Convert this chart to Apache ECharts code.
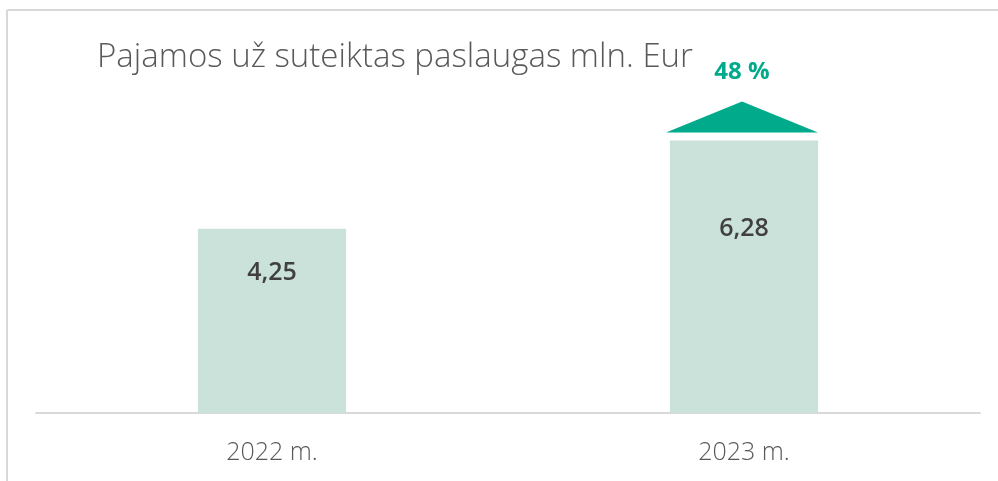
<!DOCTYPE html>
<html>
<head>
<meta charset="utf-8">
<script src="https://cdn.jsdelivr.net/npm/echarts@6/dist/echarts.min.js"></script>
<style>
  html, body { margin: 0; padding: 0; background: #fff; }
  #chart { width: 998px; height: 481px; }
</style>
</head>
<body>
<div id="chart"></div>
<script>
const years = ['2022 m.', '2023 m.']
const revenue = [4.25, 6.28]
const growthLabel = '48 %'
const titleText = 'Pajamos už suteiktas paslaugas mln. Eur'

let myChart = echarts.init(document.getElementById('chart'))
// 绘制图表
myChart.setOption({
  animation: false,
  title: {
    text: titleText,
    left: 92,
    top: 36,
    textStyle: {
      fontFamily: 'Open Sans',
      fontWeight: 300,
      fontSize: 33,
      color: '#595959'
    }
  },
  graphic: [
    { type: 'line', shape: { x1: 7, y1: 10, x2: 998, y2: 10 }, style: { stroke: '#d9d9d9', lineWidth: 2 } },
    { type: 'line', shape: { x1: 7, y1: 10, x2: 7, y2: 481 }, style: { stroke: '#d9d9d9', lineWidth: 2 } }
  ],
  grid: {
    left: 36,
    right: 18,
    top: 66,
    bottom: 68
  },
  xAxis: {
    type: 'category',
    data: years,
    axisLine: { lineStyle: { color: '#d9d9d9', width: 2 } },
    axisTick: { show: false },
    axisLabel: {
      margin: 27,
      fontFamily: 'Open Sans',
      fontWeight: 300,
      fontSize: 25,
      color: '#595959'
    }
  },
  yAxis: {
    type: 'value',
    min: 0,
    max: 8,
    show: false,
    splitLine: { show: false }
  },
  series: [
    {
      name: 'Pajamos',
      type: 'bar',
      data: revenue,
      barWidth: '31.4%',
      itemStyle: { color: '#cbe2da' },
      label: {
        show: true,
        position: 'inside',
        offset: [0, -48],
        formatter: p => p.value.toFixed(2).replace('.', ','),
        fontFamily: 'Open Sans',
        fontWeight: 600,
        fontSize: 25,
        color: '#404040'
      }
    },
    {
      name: 'Augimas',
      type: 'custom',
      data: [[1, revenue[1]]],
      renderItem(params, api) {
        let top = api.coord([api.value(0), api.value(1)])
        let size = api.size([1, 0])
        let half = size[0] * 0.322 / 2
        return {
          type: 'group',
          children: [
            {
              type: 'polygon',
              shape: {
                points: [
                  [top[0] - 2 - half, top[1] - 8],
                  [top[0] - 2 + half, top[1] - 8],
                  [top[0] - 2, top[1] - 39]
                ]
              },
              style: { fill: '#00aa8a' }
            },
            {
              type: 'text',
              x: top[0] - 2,
              y: top[1] - 68,
              style: {
                text: growthLabel,
                fill: '#00aa8a',
                fontFamily: 'Open Sans',
                fontWeight: 700,
                fontSize: 24,
                align: 'center',
                verticalAlign: 'middle'
              }
            }
          ]
        }
      }
    }
  ]
})
</script>
</body>
</html>
